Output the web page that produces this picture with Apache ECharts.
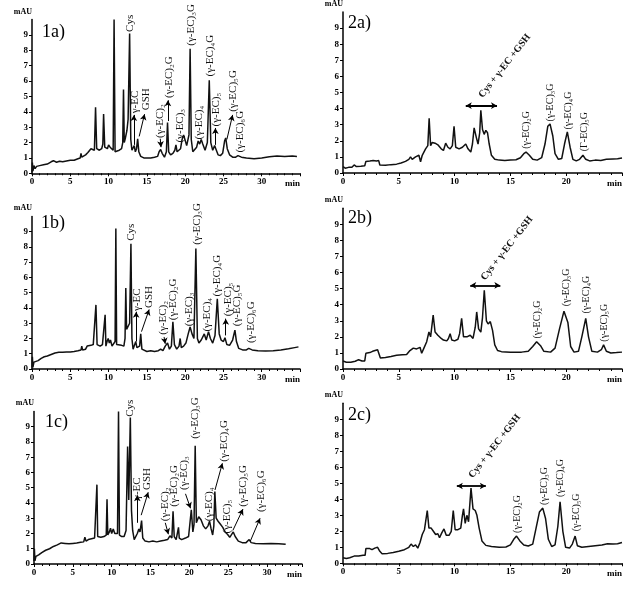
<!DOCTYPE html>
<html>
<head>
<meta charset="utf-8">
<script src="https://cdn.jsdelivr.net/npm/echarts@6/dist/echarts.min.js"></script>
<style>html,body{margin:0;padding:0;background:#fff}#main{width:633px;height:592px}</style>
</head>
<body>
<div id="main"></div>
<script>
// chromatogram traces [min, mAU]
var trace1a = [[0,0.05],[0.05,0.7],[0.12,0.15],[0.25,0.5],[0.4,0.3],[0.6,0.45],[1,0.5],[1.5,0.55],[2,0.6],[2.5,0.75],[2.8,0.82],[3.2,0.72],[3.6,0.78],[4,0.75],[4.5,0.8],[5,0.85],[5.5,0.85],[6,0.95],[6.3,1.0],[6.4,1.3],[6.5,1.05],[7,1.2],[7.3,1.35],[7.5,1.3],[7.7,1.6],[7.9,1.5],[8.15,1.5],[8.3,4.3],[8.45,1.6],[8.8,1.5],[9.1,1.6],[9.25,1.9],[9.35,3.85],[9.5,1.7],[9.7,1.8],[9.85,1.6],[10.0,1.85],[10.2,1.7],[10.4,1.6],[10.6,1.5],[10.72,10.0],[10.85,1.4],[11.1,1.4],[11.4,1.5],[11.7,1.6],[11.85,2.0],[11.95,5.45],[12.05,2.0],[12.2,2.3],[12.4,2.8],[12.55,3.5],[12.75,9.1],[12.9,2.2],[13.05,1.5],[13.2,1.6],[13.35,1.8],[13.5,1.4],[13.65,1.6],[13.8,2.25],[13.95,1.4],[14.2,1.1],[14.6,1.0],[15,1.0],[15.5,1.0],[16,1.05],[16.4,1.1],[16.6,1.4],[16.8,1.55],[17.0,1.3],[17.3,1.05],[17.55,1.4],[17.7,3.3],[17.85,1.4],[18.1,1.2],[18.4,1.3],[18.65,1.5],[18.8,1.85],[18.95,1.4],[19.2,1.3],[19.4,1.6],[19.6,2.2],[19.8,2.5],[20.0,2.4],[20.2,1.8],[20.5,2.5],[20.65,8.1],[20.8,2.2],[21.0,1.4],[21.2,1.3],[21.5,1.7],[21.7,2.1],[21.9,1.9],[22.1,2.2],[22.3,1.9],[22.6,1.5],[22.9,2.0],[23.15,6.05],[23.35,2.0],[23.6,1.5],[23.85,1.8],[24.0,1.6],[24.3,1.2],[24.6,1.15],[24.9,1.3],[25.15,2.1],[25.3,2.3],[25.5,1.6],[25.8,1.2],[26.2,1.05],[26.6,1.05],[26.9,1.15],[27.1,1.25],[27.35,1.05],[28,1.0],[29,0.95],[30,1.0],[31,1.08],[32,1.12],[33,1.1],[34,1.12],[34.6,1.1]];
var trace1b = [[0,0.1],[0.05,0.8],[0.12,0.1],[0.25,0.45],[0.5,0.4],[0.8,0.55],[1.2,0.7],[1.6,0.8],[2,0.85],[2.5,0.95],[3,1.05],[3.5,1.1],[4,1.1],[4.5,1.12],[5,1.12],[5.5,1.15],[6,1.2],[6.4,1.25],[6.5,1.5],[6.6,1.25],[7,1.3],[7.2,1.5],[7.4,1.4],[7.7,1.55],[8.0,1.6],[8.2,1.5],[8.35,4.2],[8.5,1.6],[8.9,1.5],[9.2,1.6],[9.45,1.6],[9.55,3.55],[9.65,1.5],[9.8,1.8],[9.95,2.0],[10.1,1.7],[10.25,1.9],[10.45,1.5],[10.7,1.5],[10.85,1.8],[10.95,9.2],[11.05,1.6],[11.3,1.5],[11.7,1.55],[12.0,1.5],[12.15,2.0],[12.25,5.3],[12.35,2.6],[12.6,2.5],[12.75,3.0],[12.92,8.2],[13.05,2.0],[13.2,1.3],[13.4,1.4],[13.55,1.8],[13.7,1.4],[13.9,1.3],[14.05,1.5],[14.2,2.3],[14.35,1.3],[14.6,1.2],[15,1.15],[15.5,1.2],[16,1.15],[16.5,1.2],[16.8,1.3],[17.1,1.2],[17.4,1.5],[17.7,1.7],[17.95,1.3],[18.2,1.5],[18.4,3.1],[18.6,1.6],[18.9,1.3],[19.2,1.5],[19.35,2.0],[19.5,1.4],[19.8,1.5],[20.1,1.7],[20.4,2.3],[20.65,2.75],[20.9,2.3],[21.15,2.0],[21.4,7.9],[21.6,2.0],[21.8,1.7],[22.1,1.9],[22.5,2.3],[22.75,1.9],[23.05,2.45],[23.3,2.0],[23.6,1.7],[23.9,2.2],[24.2,4.6],[24.45,2.3],[24.7,1.9],[25.0,1.8],[25.2,2.05],[25.45,1.6],[25.8,1.55],[26.2,1.9],[26.5,2.55],[26.7,1.8],[27,1.35],[27.5,1.25],[28,1.25],[28.3,1.35],[28.5,1.45],[28.75,1.25],[29.5,1.2],[30.5,1.18],[31.5,1.2],[32.5,1.25],[33.5,1.32],[34.3,1.4],[34.8,1.45]];
var trace1c = [[0,0.2],[0.05,1.0],[0.12,0.2],[0.25,0.5],[0.4,0.4],[0.6,0.6],[1,0.75],[1.5,0.9],[2,1.0],[2.5,1.15],[3,1.25],[3.5,1.38],[4,1.35],[4.5,1.32],[5,1.35],[5.5,1.38],[6,1.42],[6.4,1.45],[6.55,1.75],[6.7,1.5],[7,1.6],[7.4,1.65],[7.8,1.7],[8.0,1.75],[8.1,5.2],[8.2,1.8],[8.6,1.75],[9.0,1.8],[9.3,1.9],[9.4,4.25],[9.5,1.9],[9.7,2.1],[9.85,2.35],[10.0,2.0],[10.2,2.3],[10.4,2.0],[10.6,1.9],[10.75,2.0],[10.88,10.0],[11.0,1.9],[11.3,1.8],[11.6,1.8],[11.85,2.2],[12.05,7.7],[12.2,4.2],[12.4,9.6],[12.55,3.5],[12.7,2.2],[12.9,1.6],[13.1,1.7],[13.3,2.0],[13.5,2.3],[13.65,2.1],[13.85,2.85],[14.0,1.7],[14.3,1.5],[14.8,1.45],[15.3,1.5],[15.8,1.45],[16.3,1.5],[16.8,1.55],[17.2,1.6],[17.5,1.85],[17.75,1.7],[17.9,3.45],[18.05,1.8],[18.3,1.6],[18.5,1.7],[18.6,2.4],[18.7,1.7],[19.0,1.6],[19.5,1.7],[19.9,1.8],[20.1,2.8],[20.25,3.55],[20.45,2.1],[20.6,2.6],[20.75,7.75],[20.9,2.7],[21.2,3.1],[21.5,2.9],[21.8,2.5],[22.1,2.3],[22.4,2.5],[22.6,2.8],[22.8,2.3],[23.0,1.9],[23.15,2.5],[23.28,4.75],[23.45,3.0],[23.7,2.8],[24.0,2.6],[24.3,2.4],[24.6,2.1],[24.9,1.95],[25.2,1.75],[25.45,1.8],[25.65,2.1],[25.9,1.8],[26.3,1.5],[26.8,1.4],[27.3,1.4],[27.7,1.6],[27.95,1.4],[28.5,1.35],[29.5,1.33],[30.5,1.35],[31.5,1.33],[32.4,1.3]];
var trace2a = [[0,0.4],[0.2,0.3],[0.5,0.35],[0.8,0.35],[1.0,0.5],[1.2,0.4],[1.6,0.42],[1.95,0.45],[2.05,0.72],[2.4,0.75],[2.7,0.78],[3.0,0.75],[3.2,0.77],[3.3,0.5],[3.8,0.48],[4.3,0.52],[4.8,0.55],[5.2,0.62],[5.6,0.72],[5.9,0.85],[6.05,1.0],[6.2,0.85],[6.5,1.0],[6.8,1.1],[6.95,0.7],[7.1,1.1],[7.4,1.5],[7.6,1.7],[7.72,3.4],[7.85,1.7],[8.0,1.9],[8.25,1.85],[8.5,1.75],[8.8,1.5],[9.0,1.4],[9.2,1.85],[9.4,1.6],[9.6,1.5],[9.8,1.7],[9.95,2.9],[10.1,1.6],[10.4,1.5],[10.7,1.6],[11.0,1.8],[11.2,1.5],[11.45,1.3],[11.6,1.8],[11.75,2.8],[11.95,2.2],[12.1,1.8],[12.25,2.5],[12.35,3.9],[12.5,2.7],[12.65,2.4],[12.8,2.65],[12.95,2.5],[13.1,1.8],[13.3,1.1],[13.6,0.85],[14,0.8],[14.5,0.78],[15,0.8],[15.5,0.82],[15.9,0.95],[16.2,1.2],[16.4,1.3],[16.7,1.1],[17.0,0.85],[17.4,0.8],[17.8,0.95],[18.1,1.8],[18.35,2.9],[18.55,3.05],[18.8,2.3],[19.0,1.2],[19.3,0.85],[19.6,0.9],[19.85,1.8],[20.1,2.55],[20.35,1.6],[20.6,0.85],[20.9,0.75],[21.2,0.85],[21.5,1.1],[21.75,0.85],[22.1,0.75],[22.6,0.8],[23.1,0.78],[23.6,0.85],[24.2,0.87],[24.6,0.88],[25,0.93]];
var trace2b = [[0,0.5],[0.3,0.42],[0.7,0.42],[1.1,0.48],[1.4,0.58],[1.7,0.5],[1.95,0.5],[2.05,0.98],[2.4,1.02],[2.65,1.1],[2.8,1.18],[3.1,1.2],[3.25,1.15],[3.35,0.68],[3.8,0.72],[4.3,0.78],[4.8,0.85],[5.3,0.88],[5.7,0.9],[6.0,1.15],[6.3,1.3],[6.6,1.25],[6.9,1.35],[7.05,0.98],[7.25,1.3],[7.5,1.7],[7.7,2.3],[7.85,2.0],[8.08,3.35],[8.25,2.3],[8.5,2.1],[8.8,1.9],[9.0,1.8],[9.3,1.75],[9.45,1.9],[9.6,2.2],[9.75,1.8],[10.0,1.75],[10.3,1.85],[10.45,2.2],[10.63,3.15],[10.8,2.0],[11.1,2.0],[11.4,2.1],[11.65,1.9],[11.85,2.6],[11.98,3.55],[12.15,2.5],[12.35,2.3],[12.5,3.2],[12.66,4.9],[12.85,3.0],[13.0,2.8],[13.2,2.95],[13.4,2.4],[13.6,1.5],[13.85,1.15],[14.2,1.08],[15,1.05],[16,1.05],[16.6,1.1],[17.0,1.4],[17.35,1.7],[17.7,1.45],[18.0,1.1],[18.6,1.05],[19.0,1.3],[19.4,2.5],[19.8,3.6],[20.15,2.9],[20.4,1.4],[20.7,1.05],[21.1,1.1],[21.4,2.0],[21.75,3.15],[22.0,2.0],[22.3,1.1],[22.8,1.05],[23.15,1.2],[23.35,1.5],[23.6,1.1],[24,1.0],[24.5,1.02],[25,1.05]];
var trace2c = [[0,0.35],[0.3,0.3],[0.6,0.35],[1.0,0.45],[1.4,0.45],[1.8,0.5],[1.98,0.5],[2.05,0.92],[2.4,0.92],[2.6,0.85],[2.85,0.95],[3.1,1.0],[3.3,0.75],[3.5,0.6],[4.0,0.62],[4.5,0.68],[5.0,0.75],[5.5,0.85],[5.9,1.0],[6.1,1.2],[6.3,1.05],[6.5,1.15],[6.7,0.95],[6.9,1.3],[7.1,1.8],[7.3,2.1],[7.45,2.2],[7.55,3.3],[7.7,2.2],[7.9,2.2],[8.1,2.0],[8.3,1.8],[8.5,1.85],[8.65,1.6],[8.85,1.9],[9.05,2.15],[9.25,1.75],[9.5,1.75],[9.7,2.0],[9.88,3.3],[10.05,2.1],[10.3,2.1],[10.55,2.2],[10.7,3.0],[10.8,3.4],[10.95,2.5],[11.1,3.0],[11.25,2.6],[11.47,4.7],[11.65,3.4],[11.85,3.3],[12.0,3.0],[12.2,2.2],[12.45,1.4],[12.8,1.12],[13.3,1.05],[14,1.0],[14.6,1.02],[15.0,1.15],[15.3,1.5],[15.55,1.7],[15.85,1.4],[16.2,1.15],[16.6,1.08],[17.0,1.2],[17.3,2.2],[17.6,3.2],[17.9,3.45],[18.15,2.8],[18.4,1.5],[18.7,1.05],[19.0,1.15],[19.25,2.3],[19.45,3.85],[19.7,2.0],[19.95,1.0],[20.3,0.95],[20.55,1.2],[20.8,1.7],[21.0,1.1],[21.4,1.0],[22,1.05],[22.6,1.1],[23.2,1.15],[23.7,1.22],[24.2,1.2],[24.6,1.22],[25,1.3]];

// peak names [min, mAU, text, angle]
var labels1a = [[12.8,9.2,'Cys'],[13.45,3.9,'γ-EC'],[14.84,4.1,'GSH'],[16.7,2.3,'(γ-EC)₂'],[17.85,4.9,'(γ-EC)₂G'],[19.35,2.0,'(γ-EC)₃'],[20.8,8.3,'(γ-EC)₃G'],[21.8,2.2,'(γ-EC)₄'],[23.2,6.3,'(γ-EC)₄G'],[24.1,3.05,'(γ-EC)₅'],[26.3,4.0,'(γ-EC)₅G'],[27.15,1.35,'(γ-EC)₆G']];
var labels1b = [[12.9,8.4,'Cys'],[13.7,3.8,'γ-EC'],[15.3,4.0,'GSH'],[17.15,2.25,'(γ-EC)₂'],[18.4,3.2,'(γ-EC)₂G'],[20.5,2.8,'(γ-EC)₃'],[21.5,8.15,'(γ-EC)₃G'],[22.85,2.45,'(γ-EC)₄'],[24.15,4.75,'(γ-EC)₄G'],[25.6,3.45,'(γ-EC)₅'],[26.85,2.8,'(γ-EC)₅G'],[28.6,1.7,'(γ-EC)₆G']];
var labels1c = [[12.4,9.65,'Cys'],[13.3,4.2,'γ-EC'],[14.5,4.85,'GSH'],[16.9,2.8,'(γ-EC)₂'],[18.0,3.75,'(γ-EC)₂G'],[19.3,4.85,'(γ-EC)₃'],[20.7,8.2,'(γ-EC)₃G'],[22.5,2.8,'(γ-EC)₄'],[24.5,6.7,'(γ-EC)₄G'],[24.8,2.0,'(γ-EC)₅'],[26.9,3.75,'(γ-EC)₅G'],[29.3,3.4,'(γ-EC)₆G']];
var labels2a = [[12.7,4.55,'Cys + γ-EC +GSH',52],[16.4,1.5,'(γ-EC)₂G'],[18.6,3.2,'(γ-EC)₃G'],[20.2,2.7,'(γ-EC)₄G'],[21.6,1.35,'(Γ-EC)₅G']];
var labels2b = [[12.9,5.4,'Cys + γ-EC +GSH',52],[17.45,1.9,'(γ-EC)₂G'],[20.0,3.9,'(γ-EC)₃G'],[21.8,3.45,'(γ-EC)₄G'],[23.4,1.7,'(γ-EC)₅G']];
var labels2c = [[11.8,5.2,'Cys + γ-EC +GSH',52],[15.6,1.9,'(γ-EC)₂G'],[18.0,3.65,'(γ-EC)₃G'],[19.5,4.15,'(γ-EC)₄G'],[20.9,2.0,'(γ-EC)₅G']];

// arrows [x1, y1, x2, y2, doubleHeaded]
var arrows1a = [[13.3,1.85,13.3,3.8],[14.0,2.4,14.7,3.85],[16.75,2.25,16.85,1.7],[17.75,3.4,17.75,4.75],[23.95,1.85,23.95,2.95],[25.45,2.2,26.2,3.8]];
var arrows1b = [[13.6,1.8,13.6,3.75],[14.3,2.45,15.3,3.9],[17.25,2.1,17.4,1.65],[25.3,2.2,25.3,3.3]];
var arrows1c = [[13.3,2.7,13.3,4.5],[13.8,3.2,14.7,4.7],[16.9,2.7,17.3,1.95],[19.5,4.6,20.15,3.65],[23.3,4.85,24.25,6.6],[25.6,2.2,26.9,3.6],[27.85,1.5,29.1,3.0]];
var arrows2a = [[11.0,4.18,13.8,4.18,true]];
var arrows2b = [[11.4,5.2,14.1,5.2,true]];
var arrows2c = [[10.2,4.83,12.8,4.83,true]];

var panels = [
    {tag: '1a)', trace: trace1a, labels: labels1a, arrows: arrows1a, xMax: 35, grid: {left: 32, top: 19.6, width: 268, height: 153.7}, tagPos: [42, 41]},
    {tag: '2a)', trace: trace2a, labels: labels2a, arrows: arrows2a, xMax: 25, grid: {left: 343, top: 12, width: 279, height: 161}, tagPos: [348, 32]},
    {tag: '1b)', trace: trace1b, labels: labels1b, arrows: arrows1b, xMax: 35, grid: {left: 32, top: 216.4, width: 268, height: 152.6}, tagPos: [41, 232]},
    {tag: '2b)', trace: trace2b, labels: labels2b, arrows: arrows2b, xMax: 25, grid: {left: 343, top: 208.3, width: 279, height: 160.7}, tagPos: [348, 227]},
    {tag: '1c)', trace: trace1c, labels: labels1c, arrows: arrows1c, xMax: 34.5, grid: {left: 34, top: 411.4, width: 268, height: 152.6}, tagPos: [45, 431]},
    {tag: '2c)', trace: trace2c, labels: labels2c, arrows: arrows2c, xMax: 25, grid: {left: 343, top: 403.3, width: 279, height: 160}, tagPos: [348, 424]}
];

var serif = '"Liberation Serif", "DejaVu Serif", serif';
var myChart = echarts.init(document.getElementById('main'));

var grids = [], xAxes = [], yAxes = [], series = [];
panels.forEach(function(p, i) {
    grids.push(p.grid);
    xAxes.push({
        type: 'value', gridIndex: i, min: 0, max: p.xMax, interval: 5,
        name: 'min', nameLocation: 'end', nameGap: 0,
        nameTextStyle: {align: 'right', verticalAlign: 'top', padding: [6, 0, 0, 0], fontFamily: serif, fontWeight: 'bold', fontSize: 9, color: '#000'},
        axisLine: {lineStyle: {color: '#000', width: 1.5}},
        axisTick: {length: 3, lineStyle: {color: '#000'}},
        minorTick: {show: true, splitNumber: 5, length: 2, lineStyle: {color: '#000'}},
        axisLabel: {fontFamily: serif, fontWeight: 'bold', fontSize: 9, color: '#000', margin: 4, showMaxLabel: false},
        splitLine: {show: false}
    });
    yAxes.push({
        type: 'value', gridIndex: i, min: 0, max: 10, interval: 1,
        name: 'mAU', nameLocation: 'end', nameGap: 4,
        nameTextStyle: {align: 'right', fontFamily: serif, fontWeight: 'bold', fontSize: 8, color: '#000'},
        axisLine: {show: true, lineStyle: {color: '#000', width: 1.5}},
        axisTick: {show: true, length: 3, lineStyle: {color: '#000'}},
        axisLabel: {fontFamily: serif, fontWeight: 'bold', fontSize: 9, color: '#000', margin: 4, showMaxLabel: false},
        splitLine: {show: false}
    });
    series.push({
        type: 'line', xAxisIndex: i, yAxisIndex: i, data: p.trace,
        symbol: 'none', lineStyle: {color: '#111', width: 1.5},
        markLine: {
            silent: true, symbol: ['none', 'arrow'], symbolSize: [5, 6],
            lineStyle: {color: '#000', width: 1, type: 'solid'},
            label: {show: false},
            data: p.arrows.map(function(a) {
                return [
                    {coord: [a[0], a[1]], symbol: a[4] ? 'arrow' : 'none', lineStyle: {width: a[4] ? 1.8 : 1}},
                    {coord: [a[2], a[3]]}
                ];
            })
        }
    });
});

myChart.setOption({animation: false, grid: grids, xAxis: xAxes, yAxis: yAxes, series: series});

// peak names placed through each grid's scales
var graphics = [];
panels.forEach(function(p, i) {
    graphics.push({type: 'text', x: p.tagPos[0], y: p.tagPos[1],
        style: {text: p.tag, font: '18px ' + serif, fill: '#000', verticalAlign: 'bottom'}});
    p.labels.forEach(function(l) {
        var pt = myChart.convertToPixel({gridIndex: i}, [l[0], l[1]]);
        var ang = l[3] || 90;
        var font = ang === 90 ? ((i % 2 ? '10px ' : '11px ') + serif) : ('bold 10px ' + serif);
        graphics.push({type: 'text', x: pt[0], y: pt[1], rotation: ang * Math.PI / 180,
            style: {text: l[2], font: font, fill: '#111',
                align: 'left', verticalAlign: ang === 90 ? 'middle' : 'bottom'}});
    });
});
myChart.setOption({graphic: graphics});
</script>
</body>
</html>
